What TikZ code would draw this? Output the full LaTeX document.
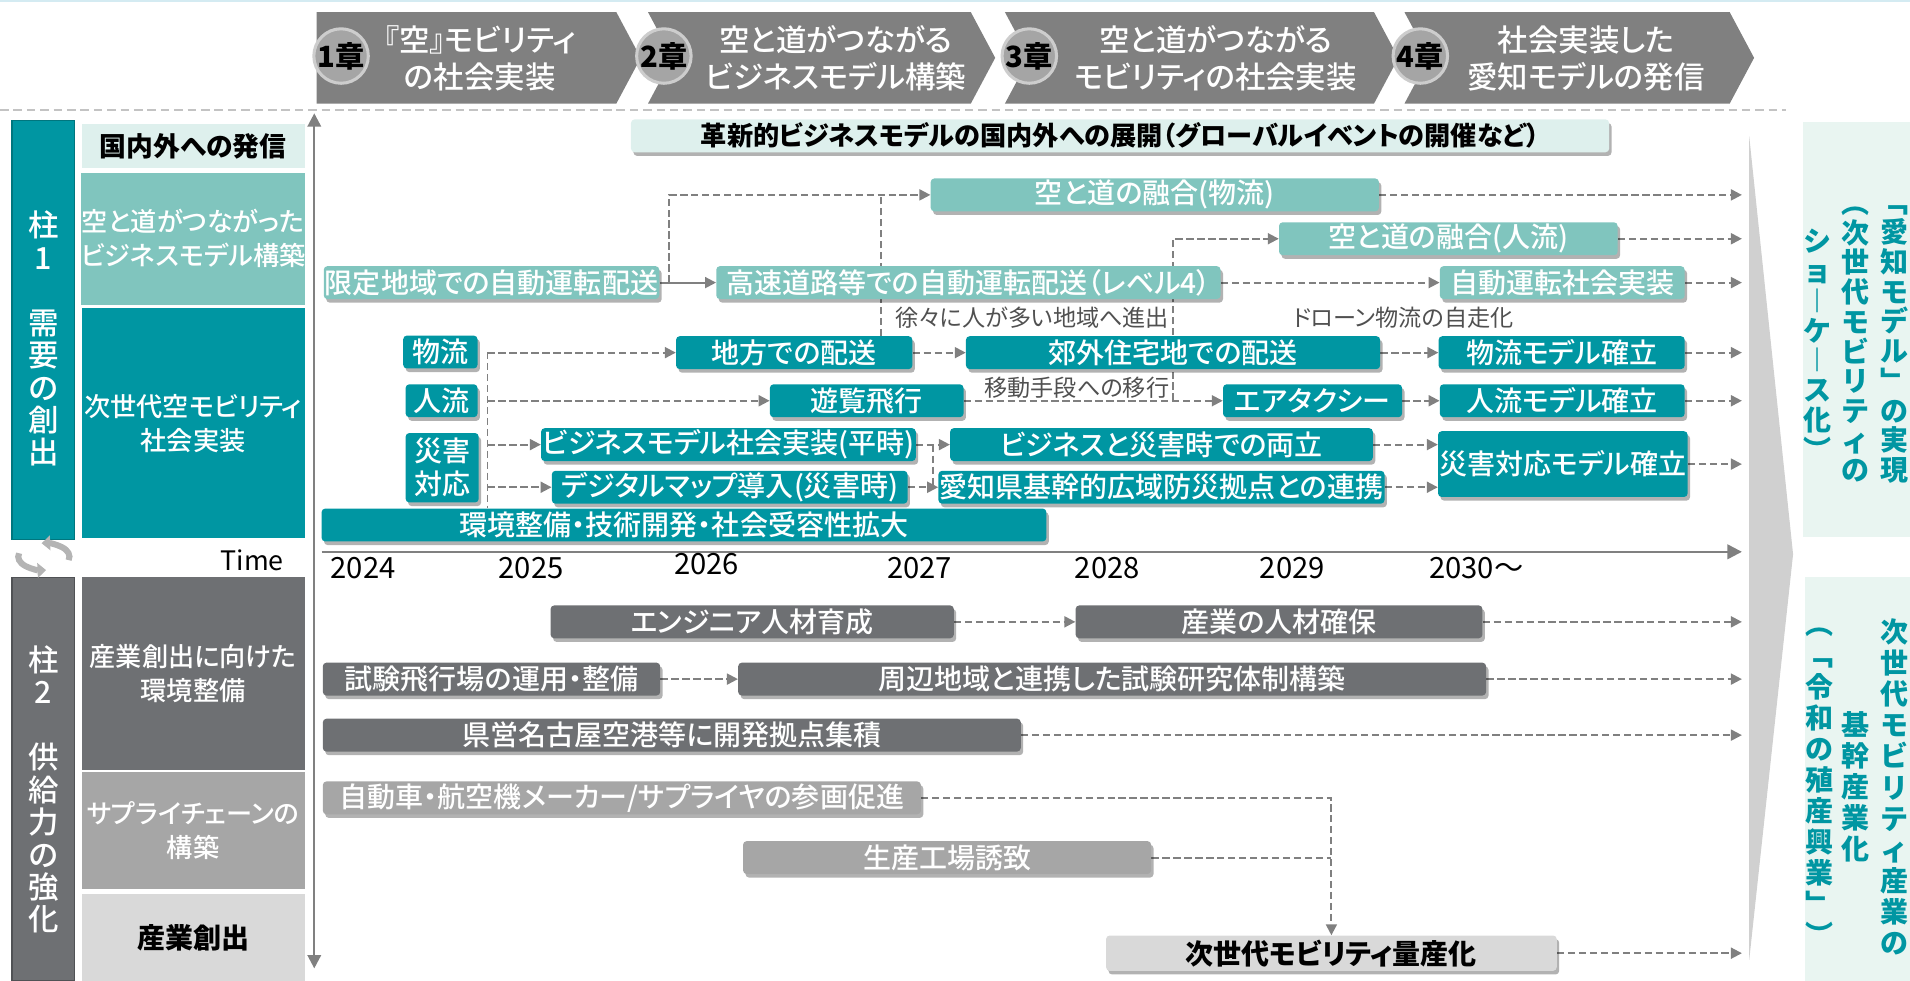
\documentclass[tikz,border=0pt]{standalone}
\usepackage{fontspec}
\setmainfont{Noto Sans CJK JP}[RawFeature=+palt]
\newfontfamily\medfont{Noto Sans CJK JP}[UprightFont=* Medium, RawFeature=+palt]
\newfontfamily\tatefont{Noto Sans CJK JP}
\usetikzlibrary{arrows.meta, shadows, calc}

\definecolor{tealdark}{RGB}{0,150,162}
\definecolor{tealedge}{RGB}{0,118,126}
\definecolor{teallight}{RGB}{128,197,190}
\definecolor{mintpale}{RGB}{222,240,237}
\definecolor{mintpanel}{RGB}{233,245,241}
\definecolor{graydark}{RGB}{110,112,115}
\definecolor{grayedge}{RGB}{80,82,85}
\definecolor{graymid}{RGB}{166,166,166}
\definecolor{graylight}{RGB}{217,217,217}
\definecolor{chevgray}{RGB}{128,128,128}
\definecolor{circfill}{RGB}{165,165,165}
\definecolor{circedge}{RGB}{205,205,205}
\definecolor{linegray}{RGB}{128,128,128}
\definecolor{sepgray}{RGB}{195,195,195}
\definecolor{notegray}{RGB}{80,80,80}
\definecolor{wedgegray}{RGB}{208,208,208}
\definecolor{icongray}{RGB}{180,180,180}
\definecolor{topline}{RGB}{212,235,242}

\pgfdeclarelayer{back}
\pgfsetlayers{back,main}

\tikzset{
    bar/.style = {rounded corners=3pt, inner sep=1pt, minimum height=27pt, text=white,
        font=\medfont\fontsize{23}{27}\selectfont,
        drop shadow={shadow xshift=2pt, shadow yshift=-3pt, opacity=0.3, fill=black}},
    tealbar/.style = {bar, fill=tealdark},
    lightbar/.style = {bar, fill=teallight},
    mintbar/.style = {bar, fill=mintpale, text=black, font=\fontsize{21.5}{27}\selectfont\bfseries},
    darkbar/.style = {bar, fill=graydark},
    midbar/.style = {bar, fill=graymid},
    palebar/.style = {bar, fill=graylight, text=black, font=\fontsize{23}{27}\selectfont\bfseries},
    cat/.style = {inner sep=0pt, minimum width=183pt, text=white, align=center, font=\medfont\fontsize{21.5}{28}\selectfont},
    pillar/.style = {draw=#1, line width=1.2pt, minimum width=51pt, inner sep=0pt},
    pillartext/.style = {text=white, align=center, inner sep=0pt, font=\medfont\fontsize{25}{26.6}\selectfont},
    tate/.style = {text=tealdark, align=center, inner sep=0pt, font=\tatefont\fontsize{23}{#1}\selectfont\bfseries},
    chevtext/.style = {text=white, align=center, inner sep=0pt, font=\medfont\fontsize{25}{30}\selectfont},
    chapter/.style = {circle, fill=circfill, draw=circedge, line width=2.5pt, minimum size=44pt, inner sep=0pt,
        font=\fontsize{24}{26}\selectfont\bfseries},
    year/.style = {inner sep=0pt, font=\fontsize{24}{26}\selectfont},
    note/.style = {inner sep=0pt, text=notegray, font=\fontsize{19}{22}\selectfont},
    axis/.style = {draw=linegray, line width=2pt},
    cycle/.style = {draw=icongray, line width=5pt, -{Triangle[length=7pt, width=12pt]}},
    flow/.style = {draw=linegray, line width=1.6pt, dash pattern=on 6pt off 3pt, -{Triangle[length=9pt, width=9pt]}},
    solidflow/.style = {draw=linegray, line width=1.6pt, -{Triangle[length=9pt, width=9pt]}},
    joinline/.style = {draw=linegray, line width=1.6pt, dash pattern=on 6pt off 3pt},
}

\begin{document}
\begin{tikzpicture}[x=1pt, y=-1pt]
    \useasboundingbox (0,0) rectangle (1568,805);
    \draw[draw=topline, line width=1.5pt] (0,0.75) -- (1568,0.75);

    \fill[chevgray] (260,10) -- (506,10) -- (526,47.5) -- (506,85) -- (260,85) -- cycle;
    \foreach \l/\r in {532/797, 825/1128, 1153/1420} {
        \fill[chevgray] (\l,10) -- (\r,10) -- (\r+20,47.5) -- (\r,85) -- (\l,85) -- (\l+20,47.5) -- cycle;
    }
    \foreach \idx/\xx in {1/280, 2/545, 3/845, 4/1166} {
        \node[chapter] (ch\idx) at (\xx,46) {\idx{}章};
    }
    \node[chevtext] (chap1) at (394,48) {『空』モビリティ\\の社会実装};
    \node[chevtext] (chap2) at (686,48) {空と道がつながる\\ビジネスモデル構築};
    \node[chevtext] (chap3) at (998,48) {空と道がつながる\\モビリティの社会実装};
    \node[chevtext] (chap4) at (1302,48) {社会実装した\\愛知モデルの発信};

    \draw[draw=sepgray, line width=1.5pt, dash pattern=on 7pt off 4pt] (0,90) -- (1466,90);

    \node[pillar=tealedge, fill=tealdark, minimum height=344pt] (pil1) at (35.5,271) {};
    \node[pillartext] (pil1txt) at (35.5,278) {柱\\1\\[27pt]需\\要\\の\\創\\出};
    \node[pillar=grayedge, fill=graydark, minimum height=331pt] (pil2) at (35.5,639.5) {};
    \node[pillartext] (pil2txt) at (35.5,648) {柱\\2\\[27pt]供\\給\\力\\の\\強\\化};

    \node[cat, fill=mintpale, text=black, font=\fontsize{22}{28}\selectfont\bfseries, minimum height=36pt] (cat1) at (158.5,120) {国内外への発信};
    \node[cat, fill=teallight, minimum height=108pt] (cat2) at (158.5,196) {空と道がつながった\\ビジネスモデル構築};
    \node[cat, fill=tealdark, minimum height=189pt] (cat3) at (158.5,347.5) {次世代空モビリティ\\社会実装};
    \node[cat, fill=graydark, minimum height=158pt] (cat4) at (158.5,553) {産業創出に向けた\\環境整備};
    \node[cat, fill=graymid, minimum height=96pt] (cat5) at (158.5,682) {サプライチェーンの\\構築};
    \node[cat, fill=graylight, text=black, font=\fontsize{23}{28}\selectfont\bfseries, minimum height=71pt] (cat6) at (158.5,769.5) {産業創出};

    \draw[cycle] (56.3,459.8) arc[start angle=-15, end angle=95, x radius=21pt, y radius=11pt];
    \draw[cycle] (15.7,454.2) arc[start angle=165, end angle=275, x radius=21pt, y radius=11pt];
    \node[inner sep=0pt, font=\fontsize{22}{24}\selectfont] (timelbl) at (207,460) {Time};

    \coordinate (ttop) at (258,93);
    \coordinate (tbot) at (258,795);
    \coordinate (t0) at (264,453);
    \coordinate (goal) at (1430,453);
    \draw[axis, {Triangle[length=11pt, width=11pt]}-{Triangle[length=11pt, width=11pt]}] (ttop) -- (tbot);
    \draw[axis, -{Triangle[length=12pt, width=12pt]}] (t0) -- (goal);
    \foreach \yr/\xx in {2024/298, 2025/436, 2027/755, 2028/909, 2029/1061} {
        \node[year] (y\yr) at (\xx,466) {\yr};
    }
    \node[year] (y2026) at (580,463) {2026};
    \node[year] (y2030) at (1212,466) {2030〜};

    \fill[wedgegray] (1436,112) -- (1472,455) -- (1436,788) -- cycle;
    \fill[mintpanel] (1480,100) rectangle (1568,441);
    \fill[mintpanel] (1482,474) rectangle (1568,805);
    \node[tate=24.4] (goal1a) at (1555,283) {﹁\\愛\\知\\モ\\デ\\ル\\﹂\\の\\実\\現};
    \node[tate=24.4] (goal1b) at (1523,283) {︵\\次\\世\\代\\モ\\ビ\\リ\\テ\\ィ\\の};
    \node[tate=24.4] (goal1c) at (1492,283) {シ\\ョ\\︱\\ケ\\︱\\ス\\化\\︶};
    \node[tate=25.5] (goal2a) at (1555,646) {次\\世\\代\\モ\\ビ\\リ\\テ\\ィ\\産\\業\\の};
    \node[tate=25.5] (goal2b) at (1523,646) {基\\幹\\産\\業\\化};
    \node[tate=25.5] (goal2c) at (1494,646) {︵\\﹁\\令\\和\\の\\殖\\産\\興\\業\\﹂\\︶};

    \node[mintbar, minimum width=803pt] (inno) at (919.5,111.5) {革新的ビジネスモデルの国内外への展開（グローバルイベントの開催など）};
    \node[lightbar, minimum width=368pt] (skylog) at (948,160) {空と道の融合(物流)};
    \node[lightbar, minimum width=278pt] (skyppl) at (1189,196) {空と道の融合(人流)};
    \node[lightbar, minimum width=275pt] (lim) at (403.5,232) {限定地域での自動運転配送};
    \node[lightbar, minimum width=414pt] (hwy) at (795,232) {高速道路等での自動運転配送（レベル4）};
    \node[lightbar, minimum width=201pt] (autosoc) at (1282.5,232) {自動運転社会実装};

    \node[tealbar, minimum width=61pt] (logi) at (361.5,289) {物流};
    \node[tealbar, minimum width=59pt] (ppl) at (362.5,329) {人流};
    \node[tealbar, minimum width=60pt, minimum height=57pt, align=center] (dis) at (363,384) {災害\\対応};
    \node[tealbar, minimum width=194pt] (rural) at (652,289.5) {地方での配送};
    \node[tealbar, minimum width=340pt] (suburb) at (963,289.5) {郊外住宅地での配送};
    \node[tealbar, minimum width=202pt] (logmodel) at (1282,289.5) {物流モデル確立};
    \node[tealbar, minimum width=159pt] (tour) at (711.5,329) {遊覧飛行};
    \node[tealbar, minimum width=147pt] (taxi) at (1077.5,329) {エアタクシー};
    \node[tealbar, minimum width=201pt] (pplmodel) at (1282.5,329) {人流モデル確立};
    \node[tealbar, minimum width=290pt] (peace) at (598,365) {ビジネスモデル社会実装(平時)};
    \node[tealbar, minimum width=292pt] (digital) at (599,400) {デジタルマップ導入(災害時)};
    \node[tealbar, minimum width=347pt] (dual) at (953.5,365) {ビジネスと災害時での両立};
    \node[tealbar, minimum width=347pt] (hub) at (953.5,400) {愛知県基幹的広域防災拠点との連携};
    \node[tealbar, minimum width=200pt, minimum height=54pt] (drmodel) at (1283,381) {災害対応モデル確立};
    \node[tealbar, minimum width=595pt] (env) at (561.5,431) {環境整備・技術開発・社会受容性拡大};

    \node[note, anchor=east] (gradual) at (960,261) {徐々に人が多い地域へ進出};
    \node[note, anchor=east] (shift) at (960,318) {移動手段への移行};
    \node[note] (selfrun) at (1152,261) {ドローン物流の自走化};

    \node[darkbar, minimum width=331pt] (eng) at (617.5,510.5) {エンジニア人材育成};
    \node[darkbar, minimum width=334pt] (talent) at (1050,510.5) {産業の人材確保};
    \node[darkbar, minimum width=277pt] (test) at (403.5,557.5) {試験飛行場の運用・整備};
    \node[darkbar, minimum width=614pt] (lab) at (913,557.5) {周辺地域と連携した試験研究体制構築};
    \node[darkbar, minimum width=573pt] (nagoya) at (551.5,603.5) {県営名古屋空港等に開発拠点集積};
    \node[midbar, minimum width=491pt] (maker) at (510.5,655) {自動車・航空機メーカー/サプライヤの参画促進};
    \node[midbar, minimum width=335pt] (plant) at (777.5,704) {生産工場誘致};
    \node[palebar, minimum width=370pt, minimum height=29pt] (mass) at (1093,782.5) {次世代モビリティ量産化};

    \begin{pgfonlayer}{back}
        \draw[solidflow] (lim) -- (hwy);
        \draw[flow] ([xshift=8pt]lim.east) |- (skylog);
        \draw[joinline] ([xshift=71pt]rural.north) -- ([xshift=71pt]rural.north |- skylog.west);
        \draw[flow] (hwy) -- (autosoc);
        \draw[flow] (suburb.center |- tour.east) |- (skyppl);
        \foreach \src in {skylog, skyppl, autosoc, logmodel, pplmodel, drmodel} {
            \draw[flow] (\src) -- (\src -| goal);
        }

        \coordinate (trunk) at ([xshift=8pt]logi.east);
        \draw[joinline] (trunk) -- (trunk |- env.north);
        \foreach \dst in {rural, tour, peace, digital} {
            \draw[flow] (trunk |- \dst) -- (\dst);
        }
        \draw[flow] (rural) -- (suburb);
        \draw[flow] (suburb) -- (logmodel);
        \draw[flow] (tour) -- (taxi);
        \draw[flow] (taxi) -- (pplmodel);
        \draw[flow] (peace) -- (dual);
        \draw[flow] (digital) -- (hub);
        \coordinate (cross) at ($(peace.east)!0.5!(dual.west)$);
        \draw[joinline] (cross) -- (cross |- hub);
        \draw[flow] (dual) -- (dual -| drmodel.west);
        \draw[flow] (hub) -- (hub -| drmodel.west);

        \draw[flow] (eng) -- (talent);
        \draw[flow] (test) -- (lab);
        \foreach \src in {talent, lab, nagoya, mass} {
            \draw[flow] (\src) -- (\src -| goal);
        }
        \draw[flow] (maker) -| (mass);
        \draw[joinline] (plant) -- (plant -| mass);
    \end{pgfonlayer}
\end{tikzpicture}
\end{document}
